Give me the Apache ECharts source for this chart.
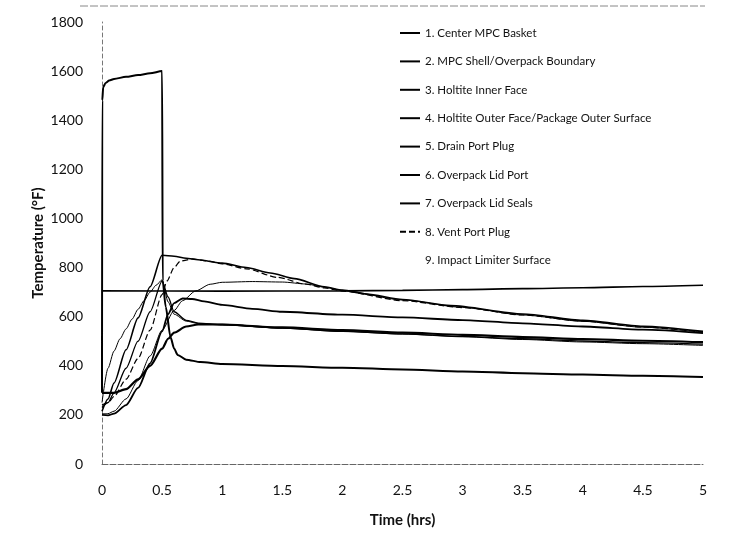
<!DOCTYPE html>
<html>
<head>
<meta charset="utf-8">
<script src="https://cdn.jsdelivr.net/npm/echarts@6/dist/echarts.min.js"></script>
<style>
  html, body { margin: 0; padding: 0; background: #fff; }
  #chart { width: 732px; height: 533px; }
</style>
</head>
<body>
<div id="chart"></div>
<script>
// ---- Data (time in hrs, temperature in °F) ----
const seriesNames = [
  '1. Center MPC Basket',
  '2. MPC Shell/Overpack Boundary',
  '3. Holtite Inner Face',
  '4. Holtite Outer Face/Package Outer Surface',
  '5. Drain Port Plug',
  '6. Overpack Lid Port',
  '7. Overpack Lid Seals',
  '8. Vent Port Plug',
  '9. Impact Limiter Surface'
];

const basketT = [0, 1, 2, 2.5, 3, 3.5, 4, 4.5, 5];
const basketV = [705, 704, 705, 707, 710, 714, 718, 723, 728];

const shellT = [0, 0.1, 0.2, 0.3, 0.4, 0.5, 0.55, 0.6, 0.7, 0.8, 1.0, 1.5, 2, 2.5, 3, 3.5, 4, 4.5, 5];
const shellV = [290, 290, 305, 345, 400, 470, 510, 535, 560, 568, 568, 556, 545, 535, 526, 517, 509, 502, 496];

const innerT = [0, 0.05, 0.1, 0.2, 0.3, 0.4, 0.5, 0.6, 0.67, 0.78, 0.9, 1.0, 1.25, 1.5, 1.7, 1.85, 2, 2.5, 3, 3.5, 4, 4.5, 5];
const innerV = [205, 205, 215, 265, 340, 440, 545, 625, 665, 705, 732, 740, 743, 741, 733, 720, 707, 668, 638, 607, 581, 557, 536];

const outerT = [0, 0.05, 0.1, 0.2, 0.3, 0.4, 0.5, 0.6, 0.7, 0.8, 1.0, 1.2, 1.4, 1.6, 1.85, 2.0, 2.2, 2.5, 2.9, 3.5, 4, 4.5, 5];
const outerV = [215, 265, 330, 465, 595, 722, 850, 846, 838, 832, 818, 800, 778, 755, 722, 708, 692, 670, 645, 611, 585, 561, 540];

const drainT = [0, 0.05, 0.1, 0.2, 0.3, 0.4, 0.5, 0.55, 0.6, 0.7, 0.8, 1.0, 1.5, 2, 2.5, 3, 3.5, 4, 4.5, 5];
const drainV = [230, 250, 290, 390, 500, 620, 745, 680, 620, 585, 574, 568, 553, 540, 530, 520, 510, 501, 494, 488];

const lidPortT = [0, 0.05, 0.1, 0.2, 0.3, 0.4, 0.5, 0.55, 0.6, 0.67, 0.75, 0.85, 1.0, 1.25, 1.5, 2, 2.5, 3, 3.5, 4, 4.5, 5];
const lidPortV = [200, 198, 205, 240, 310, 410, 540, 610, 655, 674, 672, 662, 648, 632, 620, 608, 597, 586, 573, 560, 547, 533];

const sealsT = [0, 0.05, 0.1, 0.15, 0.2, 0.25, 0.3, 0.35, 0.4, 0.45, 0.5, 0.55, 0.6, 0.7, 0.8, 1.0, 1.5, 2, 2.5, 3, 3.5, 4, 4.5, 5];
const sealsV = [250, 390, 460, 510, 550, 590, 630, 665, 700, 728, 750, 660, 610, 582, 572, 566, 553, 540, 529, 518, 507, 497, 490, 483];

const ventT = [0, 0.05, 0.1, 0.2, 0.3, 0.4, 0.5, 0.54, 0.6, 0.65, 0.75, 0.9, 1.0, 1.2, 1.46, 1.7, 1.85, 2.0, 2.5, 3, 3.5, 4, 4.5, 5];
const ventV = [240, 250, 275, 345, 430, 545, 690, 745, 800, 826, 835, 825, 815, 795, 760, 732, 717, 704, 665, 637, 607, 582, 558, 537];

const limiterT = [0, 0.002, 0.01, 0.03, 0.06, 0.1, 0.2, 0.3, 0.4, 0.5, 0.505, 0.53, 0.57, 0.6, 0.63, 0.7, 0.82, 1.0, 1.5, 2, 2.5, 3, 3.5, 4, 4.5, 5];
const limiterV = [290, 1480, 1535, 1552, 1562, 1568, 1577, 1584, 1591, 1600, 745, 640, 517, 470, 444, 425, 415, 407, 399, 392, 385, 377, 370, 364, 359, 354];

const xTicks = { min: 0, max: 5, interval: 0.5 };
const yTicks = { min: 0, max: 1800, interval: 200 };

// ---- Build chart ----
const zip = (t, v) => t.map((x, i) => [x, v[i]]);
const curves = [
  zip(basketT, basketV), zip(shellT, shellV), zip(innerT, innerV),
  zip(outerT, outerV), zip(drainT, drainV), zip(lidPortT, lidPortV),
  zip(sealsT, sealsV), zip(ventT, ventV), zip(limiterT, limiterV)
];
const styles = [
  { width: 1.6, type: 'solid' },
  { width: 2.2, type: 'solid' },
  { width: 1.0, type: 'solid' },
  { width: 1.6, type: 'solid' },
  { width: 1.3, type: 'solid' },
  { width: 1.8, type: 'solid' },
  { width: 1.0, type: 'solid' },
  { width: 1.2, type: [6, 3] },
  { width: 2.0, type: 'solid' }
];

const chart = echarts.init(document.getElementById('chart'), null, { renderer: 'canvas' });
const font = 'Lato, "Open Sans", sans-serif';

chart.setOption({
  animation: false,
  backgroundColor: '#ffffff',
  grid: { left: 102, right: 29, top: 22, bottom: 69, containLabel: false },
  legend: {
    orient: 'vertical',
    left: 394,
    top: 22,
    itemWidth: 20,
    itemHeight: 8,
    itemGap: 16.4,
    itemStyle: { opacity: 0 },
    textStyle: { fontFamily: font, fontSize: 11.5, color: '#111' },
    data: seriesNames.map((n, i) => i === 8
      ? { name: n, lineStyle: { opacity: 0 }, itemStyle: { opacity: 0 } }
      : { name: n })
  },
  xAxis: {
    type: 'value',
    min: xTicks.min, max: xTicks.max, interval: xTicks.interval,
    name: 'Time (hrs)',
    nameLocation: 'middle',
    nameGap: 49,
    nameMoveOverlap: false,
    nameTextStyle: { fontFamily: font, fontSize: 15, fontWeight: 'bold', color: '#111' },
    axisLine: { show: true, onZero: false, lineStyle: { color: '#666', width: 1, type: [6, 2] } },
    axisTick: { show: false },
    splitLine: { show: false },
    axisLabel: { margin: 19, fontFamily: font, fontSize: 14, color: '#111' }
  },
  yAxis: {
    type: 'value',
    min: yTicks.min, max: yTicks.max, interval: yTicks.interval,
    name: 'Temperature (°F)',
    nameLocation: 'middle',
    nameGap: 56,
    nameMoveOverlap: false,
    nameTextStyle: { fontFamily: font, fontSize: 15, fontWeight: 'bold', color: '#111' },
    axisLine: { show: true, lineStyle: { color: '#777', width: 1, type: [4, 3] } },
    axisTick: { show: false },
    splitLine: { show: false },
    axisLabel: { margin: 19, fontFamily: font, fontSize: 14, color: '#111',
                 formatter: v => String(v) }
  },
  graphic: [
    { type: 'line', shape: { x1: 80, y1: 6, x2: 705, y2: 6 },
      style: { stroke: '#888', lineWidth: 1, lineDash: [8, 2] }, silent: true }
  ],
  series: curves.map((d, i) => ({
    name: seriesNames[i],
    type: 'line',
    data: d,
    symbol: 'none',
    showSymbol: false,
    smooth: 0.25,
    smoothMonotone: 'x',
    lineStyle: { color: '#000', width: styles[i].width, type: styles[i].type },
    itemStyle: { color: '#000' },
    z: 2
  }))
});
</script>
</body>
</html>
